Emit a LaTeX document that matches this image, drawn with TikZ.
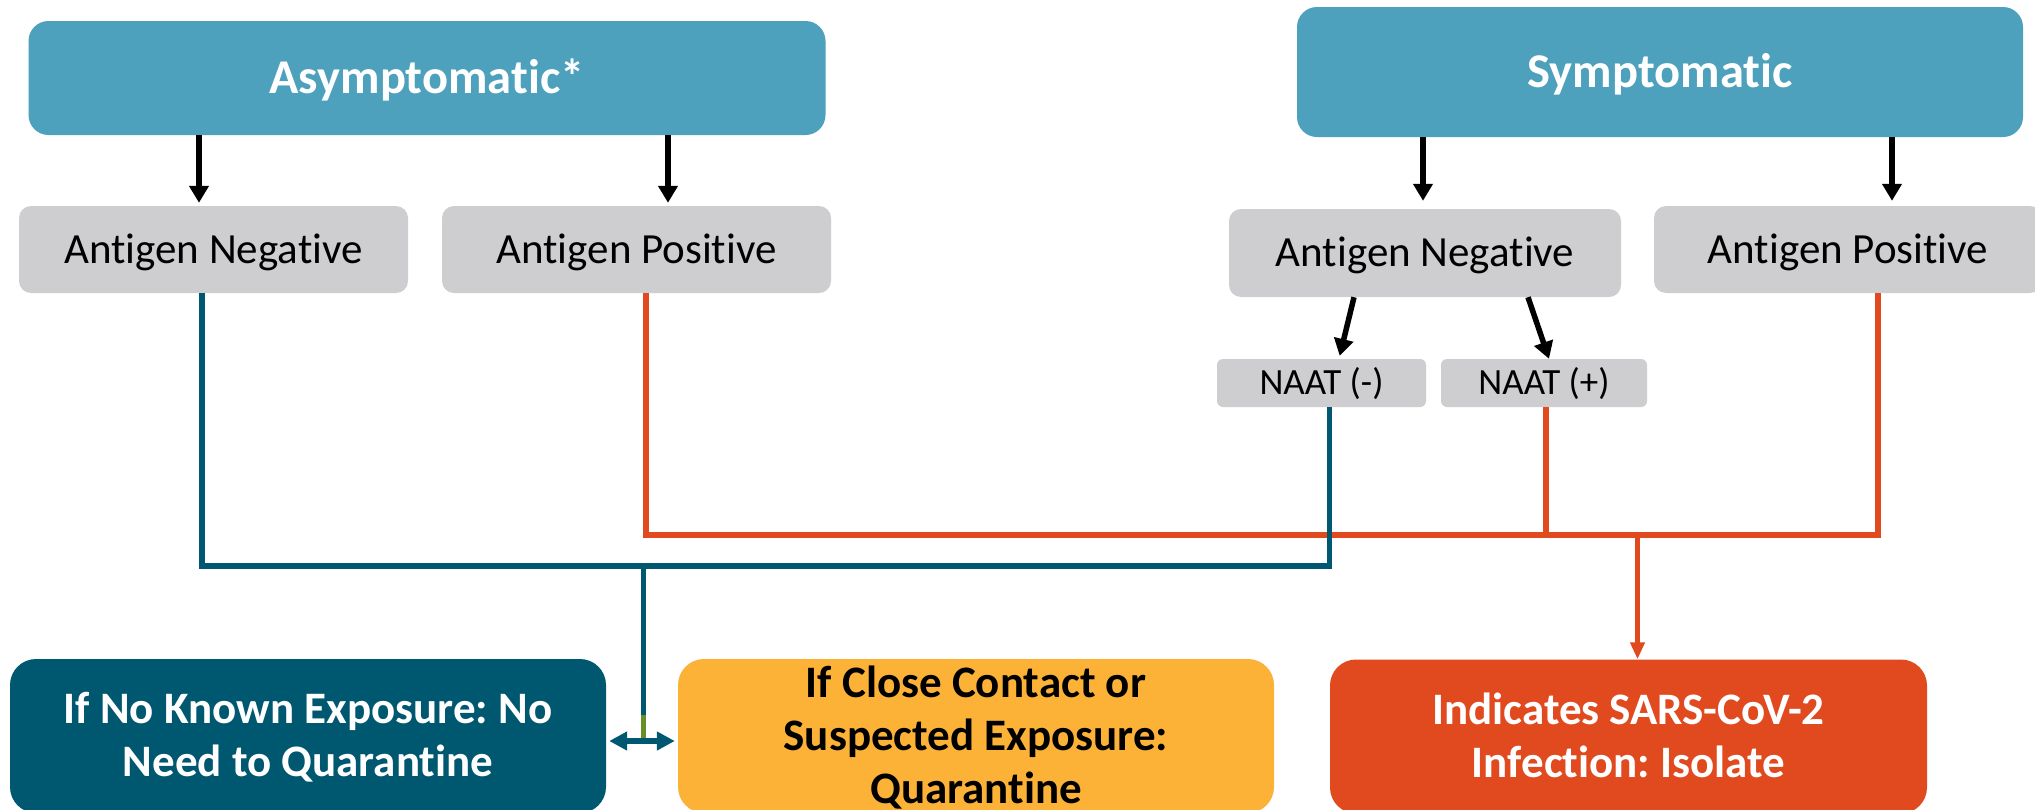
\documentclass[tikz,border=0pt]{standalone}
\usepackage{fontspec}
\setmainfont{Carlito}[Ligatures=NoCommon]
\usetikzlibrary{arrows.meta}
\frenchspacing
\definecolor{topblue}{HTML}{4EA1BC}
\definecolor{boxgray}{HTML}{CECED0}
\definecolor{darkteal}{HTML}{005870}
\definecolor{warmyellow}{HTML}{FBB237}
\definecolor{redorange}{HTML}{E04A1E}
\definecolor{olivegreen}{HTML}{688E2A}
\tikzset{
  topbox/.style={fill=topblue, rounded corners=20pt, inner sep=0pt, text=white,
    font=\fontsize{48.5}{58}\selectfont\bfseries, text height=30.5pt, text depth=0pt},
  graybox/.style={fill=boxgray, rounded corners=12pt, inner sep=0pt, text=black,
    font=\fontsize{43}{50}\selectfont, text height=27pt, text depth=0pt,
    minimum width=389pt, minimum height=87pt},
  naatbox/.style={fill=boxgray, rounded corners=6pt, inner sep=0pt, text=black,
    font=\fontsize{37}{44}\selectfont, text height=23pt, text depth=0pt,
    minimum height=48pt},
  outbox/.style={rounded corners=26pt, inner sep=0pt, text=white, align=center,
    font=\fontsize{45}{53}\selectfont\bfseries\frenchspacing, text depth=0pt,
    minimum width=597pt, minimum height=154pt},
  blackarrow/.style={draw=black, line width=5.5pt, -{Triangle[length=17pt,width=19pt]}},
  tealline/.style={draw=darkteal, line width=5.5pt},
  orangeline/.style={draw=redorange, line width=5.5pt},
}
\begin{document}
\begin{tikzpicture}[x=1pt,y=-1pt]
\useasboundingbox (0,0) rectangle (2035,809);
\clip (0,0) rectangle (2035,809);
\fill[white] (0,0) rectangle (2035,809);

\node[topbox, minimum width=797pt, minimum height=114pt] (asym) at (427,78) {Asymptomatic*};
\node[topbox, minimum width=726pt, minimum height=130pt] (sym) at (1660,72) {Symptomatic};

\node[graybox] (agnl) at (213.5,249.5) {Antigen Negative};
\node[graybox] (agpl) at (636.5,249.5) {Antigen Positive};
\node[graybox, minimum width=392pt, minimum height=88pt] (agnr) at (1425,253) {Antigen Negative};
\node[graybox, minimum width=388pt] (agpr) at (1848,249.5) {Antigen Positive};

\node[naatbox, minimum width=209pt] (naatm) at (1321.5,383) {NAAT (-)};
\node[naatbox, minimum width=206pt] (naatp) at (1544,383) {NAAT (+)};

\node[outbox, fill=darkteal, minimum width=596pt, text height=81pt] (nokn) at (308,736) {If No Known Exposure: No\\Need to Quarantine};
\node[outbox, fill=warmyellow, minimum width=596pt, text=black, text height=135pt] (close) at (976,736) {If Close Contact or\\Suspected Exposure:\\Quarantine};
\node[outbox, fill=redorange, text height=82pt] (ind) at (1628.5,736.5) {Indicates SARS-CoV-2\\Infection: Isolate};

% black arrows
\draw[blackarrow, shorten >=3pt] (199,0 |- asym.south) -- (199,0 |- agnl.north);
\draw[blackarrow, shorten >=3pt] (668,0 |- asym.south) -- (668,0 |- agpl.north);
\draw[blackarrow, shorten >=8pt] (1423,0 |- sym.south) -- (1423,0 |- agnr.north);
\draw[blackarrow, shorten >=5pt] (1892,0 |- sym.south) -- (1892,0 |- agpr.north);
\draw[blackarrow, shorten >=3pt] (1354,0 |- agnr.south) -- (1339,0 |- naatm.north);
\draw[blackarrow] (1528,0 |- agnr.south) -- (1549,0 |- naatp.north);

% orange connectors
\coordinate (oj) at (1637.5,535);
\draw[orangeline] (646,0 |- agpl.south) |- (1878,535) -- (1878,0 |- agpr.south);
\draw[orangeline] (1546,0 |- naatp.south) -- (1546,535);
\draw[orangeline, -{Triangle[length=17pt,width=14pt]}] (oj) -- (1637.5,0 |- ind.north);

% teal connectors
\coordinate (tj) at (643.5,566);
\coordinate (tg) at (643.5,715);
\coordinate (ta) at (643.5,741);
\draw[tealline] (202,0 |- agnl.south) |- (1329.5,566) -- (1329.5,0 |- naatm.south);
\draw[tealline] (tj) -- (tg);
\draw[draw=olivegreen, line width=4.5pt] (tg) -- (ta);
\draw[tealline, {Triangle[length=18pt,width=18pt]}-{Triangle[length=18pt,width=18pt]}, shorten <=3pt, shorten >=3pt] (nokn.east |- ta) -- (close.west |- ta);
\end{tikzpicture}
\end{document}
